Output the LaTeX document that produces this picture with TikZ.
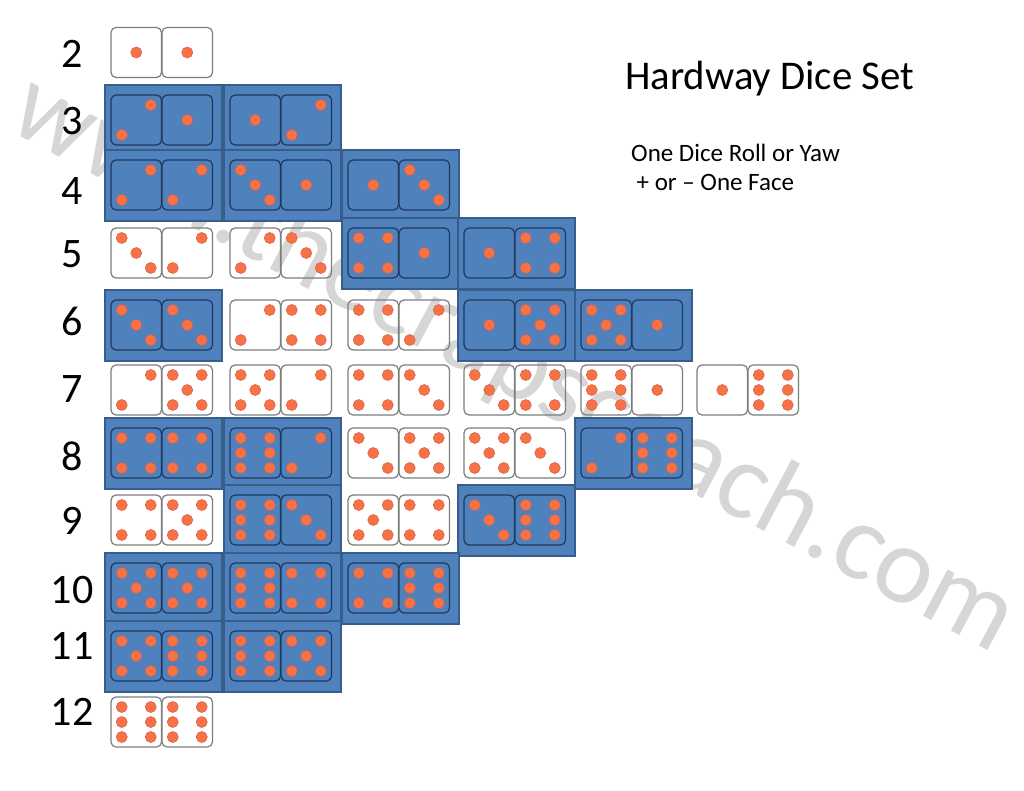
\documentclass[tikz,border=0pt]{standalone}
\usepackage{fontspec}
\setmainfont{Carlito}
\definecolor{panelfill}{RGB}{79,129,189}
\definecolor{paneledge}{RGB}{56,93,138}
\definecolor{bdieedge}{RGB}{32,56,92}
\definecolor{wdieedge}{RGB}{125,125,125}
\definecolor{pipfill}{RGB}{247,114,68}
\definecolor{pipedge}{RGB}{222,98,78}
\definecolor{wmark}{RGB}{214,214,214}
\tikzset{
  panel/.style={fill=panelfill,draw=paneledge,line width=2.5pt},
  bdie/.style={fill=panelfill,draw=bdieedge,line width=1.2pt,rounded corners=5pt},
  wdie/.style={draw=wdieedge,line width=1.2pt,rounded corners=5pt},
  pip/.style={fill=pipfill,draw=pipedge,line width=0.6pt},
  rowlbl/.style={font=\fontsize{42}{42}\selectfont,inner sep=0pt},
}
\newcommand\pp[2]{\filldraw[pip] (#1,#2) circle (5.5);}
\newcommand\dface[3]{%
  \ifcase#3\or
    \pp{#1}{#2}%
  \or
    \pp{#1+14.5}{#2-15}\pp{#1-14.5}{#2+15}%
  \or
    \pp{#1-14.5}{#2-15}\pp{#1}{#2}\pp{#1+14.5}{#2+15}%
  \or
    \pp{#1-14.5}{#2-15}\pp{#1+14.5}{#2-15}\pp{#1-14.5}{#2+15}\pp{#1+14.5}{#2+15}%
  \or
    \pp{#1-14.5}{#2-15}\pp{#1+14.5}{#2-15}\pp{#1}{#2}\pp{#1-14.5}{#2+15}\pp{#1+14.5}{#2+15}%
  \or
    \pp{#1-14.5}{#2-15}\pp{#1-14.5}{#2}\pp{#1-14.5}{#2+15}\pp{#1+14.5}{#2-15}\pp{#1+14.5}{#2}\pp{#1+14.5}{#2+15}%
  \fi}
% #1 x0, #2 yc, #3 style, #4 first face, #5 second face
\newcommand\dpair[5]{%
  \draw[#3] (#1,#2-25) rectangle ++(50.5,50);
  \draw[#3] (#1+51,#2-25) rectangle ++(50.5,50);
  \dface{#1+25.25}{#2}{#4}%
  \dface{#1+76.25}{#2}{#5}}
\newcommand\dpanel[2]{\draw[panel] (#1-6,#2-35) rectangle (#1+111,#2+36);}
\begin{document}
\begin{tikzpicture}[x=1pt,y=-1pt]
\fill[white] (0,0) rectangle (1024,791);
\useasboundingbox (0,0) rectangle (1024,791);
% watermark
\node[rotate=-28,anchor=base,text=wmark,font=\fontsize{110}{110}\selectfont,inner sep=0pt] (wm) at (500,391) {www.thecrapscoach.com};
% blue panels
\foreach \x/\y in {111/120,230/120,
                   111/185,230/185,348/185,
                   348/253,464/253,
                   111/325,464/325,581/325,
                   111/453,230/453,581/453,
                   230/520,464/520,
                   111/588,230/588,348/588,
                   111/656,230/656}{\dpanel{\x}{\y}}
% dice
\foreach \x/\y/\s/\a/\b in {
  111/52.5/wdie/1/1,
  111/120/bdie/2/1, 230/120/bdie/1/2,
  111/185/bdie/2/2, 230/185/bdie/3/1, 348/185/bdie/1/3,
  111/253/wdie/3/2, 230/253/wdie/2/3, 348/253/bdie/4/1, 464/253/bdie/1/4,
  111/325/bdie/3/3, 230/325/wdie/2/4, 348/325/wdie/4/2, 464/325/bdie/1/5, 581/325/bdie/5/1,
  111/390/wdie/2/5, 230/390/wdie/5/2, 348/390/wdie/4/3, 464/390/wdie/3/4, 581/390/wdie/6/1, 697/390/wdie/1/6,
  111/453/bdie/4/4, 230/453/bdie/6/2, 348/453/wdie/3/5, 464/453/wdie/5/3, 581/453/bdie/2/6,
  111/520/wdie/4/5, 230/520/bdie/6/3, 348/520/wdie/5/4, 464/520/bdie/3/6,
  111/588/bdie/5/5, 230/588/bdie/6/4, 348/588/bdie/4/6,
  111/656/bdie/5/6, 230/656/bdie/6/5,
  111/722/wdie/6/6}{\dpair{\x}{\y}{\s}{\a}{\b}}
% row labels
\foreach \n/\y in {2/54,3/121,4/191,5/254,6/321,7/389,8/456,9/521,10/590,11/646,12/712}
  {\node[rowlbl] (lbl\n) at (72,\y) {\n};}
% title
\node[anchor=base west,inner sep=0pt,font=\fontsize{40.8}{40.8}\selectfont] (title) at (625,90) {Hardway Dice Set};
\node[anchor=base west,inner sep=0pt,font=\fontsize{25}{25}\selectfont] (sub1) at (631,161.7) {One Dice Roll or Yaw};
\node[anchor=base west,inner sep=0pt,font=\fontsize{25}{25}\selectfont] (sub2) at (631,190.7) {\hspace*{0.22em}+ or – One Face};
\end{tikzpicture}
\end{document}
